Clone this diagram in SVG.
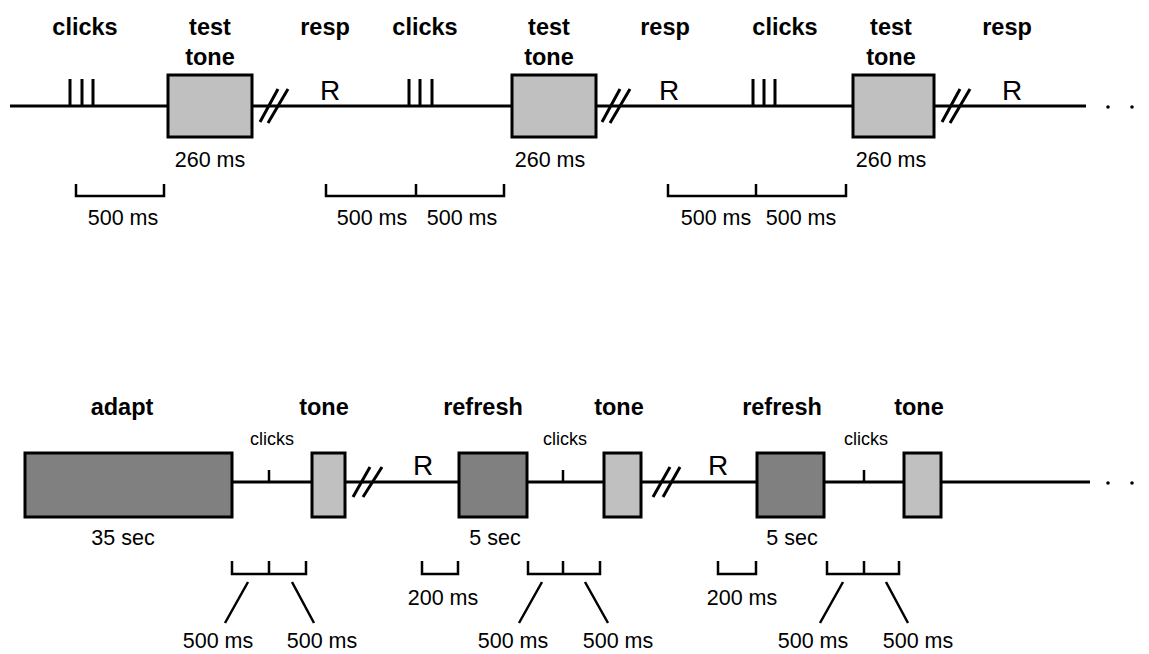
<svg xmlns="http://www.w3.org/2000/svg" width="1149" height="654" viewBox="0 0 1149 654">
<style>
.ln{stroke:#000;stroke-width:3;fill:none}
.br{stroke:#000;stroke-width:2.5;fill:none}
.lt{fill:#c0c0c0;stroke:#000;stroke-width:3}
.dk{fill:#808080;stroke:#000;stroke-width:3}
.hd{font-family:"Liberation Sans",Arial,sans-serif;font-weight:bold;font-size:23.5px;text-anchor:middle;fill:#000}
.lb{font-family:"Liberation Sans",Arial,sans-serif;font-size:21.5px;text-anchor:middle;fill:#000}
.sm{font-family:"Liberation Sans",Arial,sans-serif;font-size:18px;text-anchor:middle;fill:#000}
.r{font-family:"Liberation Sans",Arial,sans-serif;font-size:28px;text-anchor:middle;fill:#000}
</style>
<rect width="1149" height="654" fill="#fff"/>
<g id="connectors">
  <line class="ln" x1="10" y1="106" x2="1086" y2="106"/>
  <circle cx="1108" cy="107" r="1.8" fill="#000"/>
  <circle cx="1132" cy="107" r="1.8" fill="#000"/>
  <line class="ln" x1="232" y1="482" x2="1090" y2="482"/>
  <circle cx="1108" cy="483" r="1.8" fill="#000"/>
  <circle cx="1132" cy="483" r="1.8" fill="#000"/>
</g>
<g id="top-group-1">
  <text class="hd" x="85" y="35">clicks</text>
  <path class="ln" d="M70 79V106M82 79V106M93 79V106"/>
  <rect class="lt" x="168" y="75" width="84" height="62"/>
  <text class="hd" x="210" y="35">test</text>
  <text class="hd" x="210" y="65">tone</text>
  <text class="lb" x="210" y="167">260 ms</text>
  <path class="ln" d="M260 122L278 89M268 123L288 89"/>
  <text class="hd" x="325" y="35">resp</text>
  <text class="r" x="330" y="100">R</text>
  <path class="br" d="M76 184V196H164V184"/>
  <text class="lb" x="123" y="225">500 ms</text>
</g>
<g id="top-group-2">
  <text class="hd" x="425" y="35">clicks</text>
  <path class="ln" d="M409 79V106M420 79V106M432 79V106"/>
  <rect class="lt" x="512" y="75" width="84" height="62"/>
  <text class="hd" x="549" y="35">test</text>
  <text class="hd" x="549" y="65">tone</text>
  <text class="lb" x="550" y="167">260 ms</text>
  <path class="ln" d="M602 122L620 89M610 123L630 89"/>
  <text class="hd" x="665" y="35">resp</text>
  <text class="r" x="669" y="100">R</text>
  <path class="br" d="M326 184V196H504V184M416 184V196"/>
  <text class="lb" x="372" y="225">500 ms</text>
  <text class="lb" x="462" y="225">500 ms</text>
</g>
<g id="top-group-3">
  <text class="hd" x="785" y="35">clicks</text>
  <path class="ln" d="M753 79V106M764 79V106M775 79V106"/>
  <rect class="lt" x="853" y="75" width="81" height="62"/>
  <text class="hd" x="891" y="35">test</text>
  <text class="hd" x="891" y="65">tone</text>
  <text class="lb" x="891" y="167">260 ms</text>
  <path class="ln" d="M942 122L960 89M950 123L970 89"/>
  <text class="hd" x="1007" y="35">resp</text>
  <text class="r" x="1012" y="100">R</text>
  <path class="br" d="M668 184V196H846V184M756 184V196"/>
  <text class="lb" x="716" y="225">500 ms</text>
  <text class="lb" x="801" y="225">500 ms</text>
</g>
<g id="bottom-adapt">
  <rect class="dk" x="25" y="453" width="207" height="64"/>
  <text class="hd" x="122" y="415">adapt</text>
  <text class="lb" x="123" y="545">35 sec</text>
</g>
<g id="bottom-group-1">
  <text class="sm" x="272" y="445">clicks</text>
  <line class="br" x1="269" y1="470" x2="269" y2="482"/>
  <rect class="lt" x="312" y="453" width="33" height="64"/>
  <text class="hd" x="324" y="415">tone</text>
  <path class="ln" d="M353 497L370 467M363 497L382 467"/>
  <path class="br" d="M232 561V574H306V561M269 561V574"/>
  <path class="br" d="M248 582L225 623M292 582L314 623"/>
  <text class="lb" x="218" y="648">500 ms</text>
  <text class="lb" x="322" y="648">500 ms</text>
</g>
<g id="bottom-group-2">
  <text class="r" x="423" y="475">R</text>
  <rect class="dk" x="459" y="453" width="68" height="64"/>
  <text class="hd" x="483" y="415">refresh</text>
  <text class="lb" x="495" y="545">5 sec</text>
  <path class="br" d="M422 561V574H458V561"/>
  <text class="lb" x="443" y="605">200 ms</text>
  <text class="sm" x="565" y="445">clicks</text>
  <line class="br" x1="563" y1="470" x2="563" y2="482"/>
  <rect class="lt" x="604" y="453" width="37" height="64"/>
  <text class="hd" x="619" y="415">tone</text>
  <path class="ln" d="M653 497L670 467M663 497L680 467"/>
  <path class="br" d="M528 561V574H600V561M563 561V574"/>
  <path class="br" d="M542 582L519 623M585 582L608 623"/>
  <text class="lb" x="513" y="648">500 ms</text>
  <text class="lb" x="618" y="648">500 ms</text>
</g>
<g id="bottom-group-3">
  <text class="r" x="718" y="475">R</text>
  <rect class="dk" x="757" y="453" width="67" height="64"/>
  <text class="hd" x="782" y="415">refresh</text>
  <text class="lb" x="792" y="545">5 sec</text>
  <path class="br" d="M718 561V574H756V561"/>
  <text class="lb" x="742" y="605">200 ms</text>
  <text class="sm" x="866" y="445">clicks</text>
  <line class="br" x1="864" y1="470" x2="864" y2="482"/>
  <rect class="lt" x="904" y="453" width="37" height="64"/>
  <text class="hd" x="919" y="415">tone</text>
  <path class="br" d="M827 561V574H899V561M864 561V574"/>
  <path class="br" d="M843 582L820 623M886 582L908 623"/>
  <text class="lb" x="813" y="648">500 ms</text>
  <text class="lb" x="918" y="648">500 ms</text>
</g>
</svg>
